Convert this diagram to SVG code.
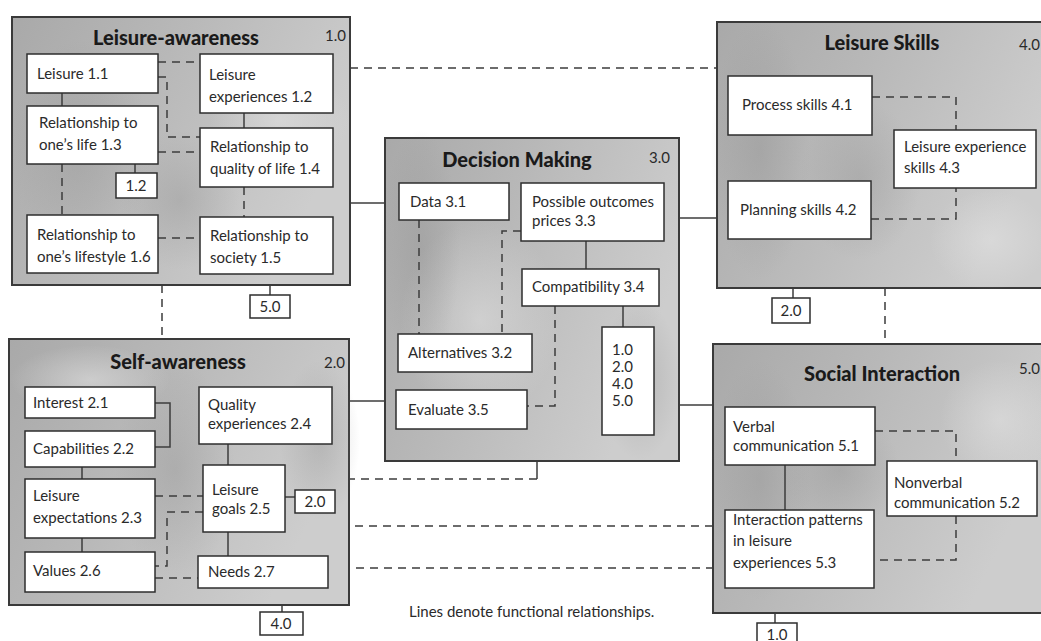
<svg xmlns="http://www.w3.org/2000/svg" width="1041" height="641" viewBox="0 0 1041 641">
  <defs>
    <style>
      .panel { stroke: #3a3a3a; stroke-width: 2; }
      .box { fill: #ffffff; stroke: #2e2e2e; stroke-width: 1.5; }
      .ln { fill: none; stroke: #3c3c3c; stroke-width: 1.5; }
      .dash { stroke-dasharray: 8 6; }
      text { font-family: Lato, "Liberation Sans", sans-serif; font-size: 15px; fill: #2a2a2a; }
      .h { font-weight: 900; font-size: 20px; fill: #1a1a1a; text-anchor: middle; }
      .num { text-anchor: end; }
      .c { text-anchor: middle; }
    </style>
    <linearGradient id="shade" x1="0" y1="0" x2="1" y2="0.4">
      <stop offset="0" stop-color="#a9a9a9"/>
      <stop offset="0.45" stop-color="#b8b8b8"/>
      <stop offset="1" stop-color="#cdcdcd"/>
    </linearGradient>
    <radialGradient id="mottle" cx="0.5" cy="0.5" r="0.5">
      <stop offset="0" stop-color="#8f8f8f" stop-opacity="0.35"/>
      <stop offset="1" stop-color="#8f8f8f" stop-opacity="0"/>
    </radialGradient>
    <radialGradient id="light" cx="0.5" cy="0.5" r="0.5">
      <stop offset="0" stop-color="#e2e2e2" stop-opacity="0.55"/>
      <stop offset="1" stop-color="#e2e2e2" stop-opacity="0"/>
    </radialGradient>
  </defs>

  <rect width="1041" height="641" fill="#ffffff"/>

  <!-- inter-panel connectors -->
  <g id="connectors">
    <line class="ln dash" x1="350" y1="68" x2="717" y2="68"/>
    <line class="ln" x1="350" y1="203" x2="385" y2="203"/>
    <line class="ln" x1="679" y1="218" x2="717" y2="218"/>
    <line class="ln dash" x1="162" y1="285" x2="162" y2="339"/>
    <line class="ln" x1="270" y1="285" x2="270" y2="295"/>
    <line class="ln" x1="793" y1="288" x2="793" y2="298"/>
    <line class="ln dash" x1="885" y1="288" x2="885" y2="344"/>
    <line class="ln" x1="349" y1="401" x2="385" y2="401"/>
    <line class="ln" x1="679" y1="405" x2="713" y2="405"/>
    <polyline class="ln" points="537,461 537,479"/>
    <line class="ln dash" x1="537" y1="479" x2="285" y2="479"/>
    <line class="ln dash" x1="285" y1="526" x2="725" y2="526"/>
    <line class="ln dash" x1="328" y1="568" x2="725" y2="568"/>
    <line class="ln" x1="282" y1="605" x2="282" y2="612"/>
    <line class="ln" x1="775" y1="613" x2="775" y2="623"/>
  </g>

  <!-- 1.0 Leisure-awareness -->
  <g id="leisure-awareness">
    <rect class="panel" x="12" y="17" width="338" height="268" fill="url(#shade)"/>
    <ellipse cx="80" cy="150" rx="70" ry="110" fill="url(#mottle)"/>
    <ellipse cx="180" cy="200" rx="60" ry="70" fill="url(#mottle)"/>
    <ellipse cx="280" cy="120" rx="70" ry="50" fill="url(#light)"/>
    <text class="h" x="176" y="45">Leisure-awareness</text>
    <text class="num" x="346" y="41">1.0</text>

    <line class="ln" x1="62" y1="93" x2="62" y2="106"/>
    <line class="ln dash" x1="158" y1="62" x2="200" y2="62"/>
    <polyline class="ln dash" points="158,77 167,77 167,137 200,137"/>
    <line class="ln dash" x1="158" y1="152" x2="200" y2="152"/>
    <line class="ln" x1="135" y1="164" x2="135" y2="173"/>
    <line class="ln dash" x1="62" y1="164" x2="62" y2="215"/>
    <line class="ln" x1="244" y1="113" x2="244" y2="128"/>
    <line class="ln dash" x1="244" y1="187" x2="244" y2="217"/>
    <line class="ln dash" x1="158" y1="238" x2="200" y2="238"/>

    <rect class="box" x="27" y="54" width="131" height="39"/>
    <text x="37" y="79">Leisure 1.1</text>
    <rect class="box" x="200" y="54" width="133" height="59"/>
    <text x="209" y="80">Leisure</text>
    <text x="209" y="102">experiences 1.2</text>
    <rect class="box" x="27" y="106" width="131" height="58"/>
    <text x="39" y="128">Relationship to</text>
    <text x="39" y="150">one’s life 1.3</text>
    <rect class="box" x="116" y="173" width="41" height="25"/>
    <text class="c" x="136" y="191">1.2</text>
    <rect class="box" x="200" y="128" width="133" height="59"/>
    <text x="210" y="152">Relationship to</text>
    <text x="210" y="174">quality of life 1.4</text>
    <rect class="box" x="27" y="215" width="131" height="58"/>
    <text x="37" y="240">Relationship to</text>
    <text x="37" y="262">one’s lifestyle 1.6</text>
    <rect class="box" x="200" y="217" width="133" height="57"/>
    <text x="210" y="241">Relationship to</text>
    <text x="210" y="263">society 1.5</text>
    <rect class="box" x="250" y="295" width="40" height="23"/>
    <text class="c" x="270" y="312">5.0</text>
  </g>

  <!-- 2.0 Self-awareness -->
  <g id="self-awareness">
    <rect class="panel" x="9" y="339" width="340" height="266" fill="url(#shade)"/>
    <ellipse cx="175" cy="470" rx="60" ry="110" fill="url(#mottle)"/>
    <ellipse cx="320" cy="440" rx="40" ry="80" fill="url(#mottle)"/>
    <ellipse cx="90" cy="380" rx="80" ry="35" fill="url(#light)"/>
    <text class="h" x="178" y="369">Self-awareness</text>
    <text class="num" x="345" y="368">2.0</text>

    <polyline class="ln" points="155,403 170,403 170,447 155,447"/>
    <line class="ln" x1="82" y1="467" x2="82" y2="479"/>
    <line class="ln" x1="82" y1="538" x2="82" y2="552"/>
    <line class="ln" x1="228" y1="444" x2="228" y2="465"/>
    <line class="ln" x1="228" y1="532" x2="228" y2="556"/>
    <line class="ln dash" x1="155" y1="496" x2="203" y2="496"/>
    <polyline class="ln dash" points="203,512 167,512 167,566 155,566"/>
    <line class="ln dash" x1="155" y1="578" x2="198" y2="578"/>
    <line class="ln" x1="285" y1="497" x2="295" y2="497"/>

    <rect class="box" x="25" y="387" width="130" height="31"/>
    <text x="33" y="408">Interest 2.1</text>
    <rect class="box" x="25" y="431" width="130" height="36"/>
    <text x="33" y="454">Capabilities 2.2</text>
    <rect class="box" x="25" y="479" width="130" height="59"/>
    <text x="33" y="501">Leisure</text>
    <text x="33" y="523">expectations 2.3</text>
    <rect class="box" x="25" y="552" width="130" height="40"/>
    <text x="33" y="576">Values 2.6</text>
    <rect class="box" x="199" y="387" width="133" height="57"/>
    <text x="208" y="410">Quality</text>
    <text x="208" y="429">experiences 2.4</text>
    <rect class="box" x="203" y="465" width="82" height="67"/>
    <text x="212" y="495">Leisure</text>
    <text x="212" y="514">goals 2.5</text>
    <rect class="box" x="295" y="490" width="40" height="23"/>
    <text class="c" x="315" y="507">2.0</text>
    <rect class="box" x="198" y="556" width="130" height="32"/>
    <text x="208" y="577">Needs 2.7</text>
    <rect class="box" x="260" y="612" width="43" height="23"/>
    <text class="c" x="281" y="629">4.0</text>
  </g>

  <!-- 3.0 Decision Making -->
  <g id="decision-making">
    <rect class="panel" x="385" y="138" width="294" height="323" fill="url(#shade)"/>
    <ellipse cx="480" cy="320" rx="80" ry="100" fill="url(#light)"/>
    <ellipse cx="420" cy="250" rx="40" ry="120" fill="url(#mottle)"/>
    <ellipse cx="640" cy="380" rx="40" ry="80" fill="url(#mottle)"/>
    <text class="h" x="517" y="167">Decision Making</text>
    <text class="num" x="670" y="163">3.0</text>

    <line class="ln dash" x1="419" y1="220" x2="419" y2="334"/>
    <polyline class="ln dash" points="521,231 502,231 502,334"/>
    <line class="ln" x1="586" y1="241" x2="586" y2="269"/>
    <polyline class="ln dash" points="555,306 555,406 527,406"/>
    <line class="ln" x1="623" y1="306" x2="623" y2="327"/>

    <rect class="box" x="399" y="183" width="110" height="37"/>
    <text x="410" y="207">Data 3.1</text>
    <rect class="box" x="521" y="183" width="143" height="58"/>
    <text x="532" y="207">Possible outcomes</text>
    <text x="532" y="226">prices 3.3</text>
    <rect class="box" x="522" y="269" width="137" height="37"/>
    <text x="532" y="292">Compatibility 3.4</text>
    <rect class="box" x="398" y="334" width="134" height="38"/>
    <text x="408" y="358">Alternatives 3.2</text>
    <rect class="box" x="396" y="390" width="131" height="39"/>
    <text x="408" y="415">Evaluate 3.5</text>
    <rect class="box" x="602" y="327" width="52" height="108"/>
    <text x="612" y="355">1.0</text>
    <text x="612" y="372">2.0</text>
    <text x="612" y="389">4.0</text>
    <text x="612" y="406">5.0</text>
  </g>

  <!-- 4.0 Leisure Skills -->
  <g id="leisure-skills">
    <rect class="panel" x="717" y="22" width="330" height="266" fill="url(#shade)"/>
    <ellipse cx="760" cy="150" rx="50" ry="130" fill="url(#mottle)"/>
    <ellipse cx="860" cy="180" rx="60" ry="80" fill="url(#mottle)"/>
    <ellipse cx="990" cy="240" rx="60" ry="50" fill="url(#light)"/>
    <text class="h" x="882" y="50">Leisure Skills</text>
    <text class="num" x="1040" y="50">4.0</text>

    <polyline class="ln dash" points="872,97 956,97 956,130"/>
    <polyline class="ln dash" points="871,219 956,219 956,188"/>

    <rect class="box" x="728" y="76" width="144" height="59"/>
    <text x="742" y="110">Process skills 4.1</text>
    <rect class="box" x="728" y="181" width="143" height="58"/>
    <text x="740" y="215">Planning skills 4.2</text>
    <rect class="box" x="894" y="130" width="142" height="58"/>
    <text x="904" y="152">Leisure experience</text>
    <text x="904" y="173">skills 4.3</text>
    <rect class="box" x="772" y="298" width="38" height="25"/>
    <text class="c" x="791" y="316">2.0</text>
  </g>

  <!-- 5.0 Social Interaction -->
  <g id="social-interaction">
    <rect class="panel" x="713" y="344" width="334" height="269" fill="url(#shade)"/>
    <ellipse cx="760" cy="480" rx="50" ry="120" fill="url(#mottle)"/>
    <ellipse cx="840" cy="470" rx="60" ry="60" fill="url(#mottle)"/>
    <ellipse cx="1000" cy="420" rx="60" ry="60" fill="url(#light)"/>
    <text class="h" x="882" y="381">Social Interaction</text>
    <text class="num" x="1040" y="374">5.0</text>

    <polyline class="ln dash" points="875,431 956,431 956,461"/>
    <line class="ln" x1="785" y1="465" x2="785" y2="510"/>
    <polyline class="ln dash" points="956,516 956,560 874,560"/>

    <rect class="box" x="725" y="407" width="150" height="58"/>
    <text x="733" y="432">Verbal</text>
    <text x="733" y="451">communication 5.1</text>
    <rect class="box" x="887" y="461" width="150" height="55"/>
    <text x="894" y="488">Nonverbal</text>
    <text x="894" y="508">communication 5.2</text>
    <rect class="box" x="725" y="510" width="149" height="78"/>
    <text x="733" y="525">Interaction patterns</text>
    <text x="733" y="546">in leisure</text>
    <text x="733" y="568">experiences 5.3</text>
    <rect class="box" x="757" y="623" width="40" height="26"/>
    <text class="c" x="777" y="640">1.0</text>
  </g>

  <text x="409" y="617" font-size="14.5">Lines denote functional relationships.</text>
</svg>
